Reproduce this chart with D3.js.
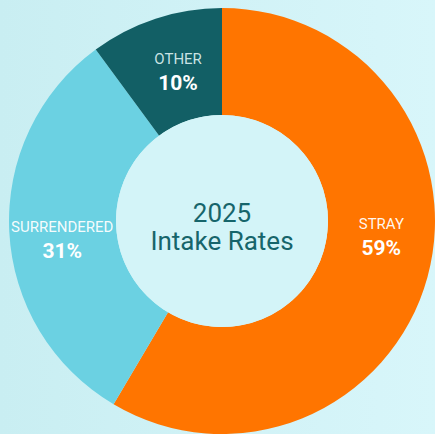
<!DOCTYPE html>
<html>
<head>
<meta charset="utf-8">
<script src="https://cdn.jsdelivr.net/npm/d3@7"></script>
<style>
  html, body { margin: 0; padding: 0; }
  body { width: 435px; height: 434px; overflow: hidden; }
</style>
</head>
<body>
<svg id="chart" width="435" height="434"></svg>
<script>
const categories = ["STRAY", "SURRENDERED", "OTHER"];
// slice sizes as measured from the arc boundaries; labels show them rounded
const values = [58.5, 31.4, 10.1];
const colors = ["#ff7500", "#6bd1e2", "#125f65"];
const centerLines = ["2025", "Intake Rates"];

const svg = d3.select("#chart");
const width = 435, height = 434;
const cx = 222, cy = 221;
const outerR = 213, innerR = 106;

const defs = svg.append("defs");
const grad = defs.append("linearGradient").attr("id", "bg").attr("x1", 0).attr("x2", 1).attr("y1", 0).attr("y2", 0);
grad.append("stop").attr("offset", "0%").attr("stop-color", "#c9eef2");
grad.append("stop").attr("offset", "100%").attr("stop-color", "#d8f6fa");

svg.append("rect").attr("width", width).attr("height", height).attr("fill", "url(#bg)");

const data = categories.map((c, i) => ({ name: c, value: values[i], color: colors[i] }));

const pie = d3.pie().value(d => d.value).sort(null);
const arc = d3.arc().innerRadius(innerR).outerRadius(outerR);
const labelArc = d3.arc().innerRadius(160).outerRadius(160);

const g = svg.append("g").attr("transform", `translate(${cx},${cy})`);

g.selectAll("path.slice")
  .data(pie(data))
  .enter()
  .append("path")
  .attr("class", "slice")
  .attr("d", arc)
  .attr("fill", d => d.data.color);

g.append("circle").attr("r", innerR).attr("fill", "#d3f4f8");

// labels sit near the slice centroid, then get pulled toward the horizontal
const labelNudge = { STRAY: [5, -27], SURRENDERED: [0, 10], OTHER: [6, 2] };

const labels = g.selectAll("g.label")
  .data(pie(data))
  .enter()
  .append("g")
  .attr("class", "label")
  .attr("transform", d => {
    const [x, y] = labelArc.centroid(d);
    const n = labelNudge[d.data.name];
    return `translate(${x + n[0]},${y + n[1]})`;
  });

labels.append("text")
  .attr("text-anchor", "middle")
  .attr("y", -7)
  .attr("font-family", "Roboto, sans-serif")
  .attr("font-size", 15)
  .attr("fill", d => d.data.name === "OTHER" ? "#d6eced" : "#ffffff")
  .attr("fill-opacity", 0.95)
  .text(d => d.data.name);

labels.append("text")
  .attr("text-anchor", "middle")
  .attr("y", 19)
  .attr("font-family", "Roboto, sans-serif")
  .attr("font-weight", 700)
  .attr("font-size", 21)
  .attr("fill", "#ffffff")
  .text(d => `${Math.round(d.data.value)}%`);

g.selectAll("text.center")
  .data(centerLines)
  .enter()
  .append("text")
  .attr("class", "center")
  .attr("text-anchor", "middle")
  .attr("y", (d, i) => 1 + i * 28)
  .attr("font-family", "Roboto, sans-serif")
  .attr("font-size", 26)
  .attr("fill", "#16656b")
  .text(d => d);
</script>
</body>
</html>
